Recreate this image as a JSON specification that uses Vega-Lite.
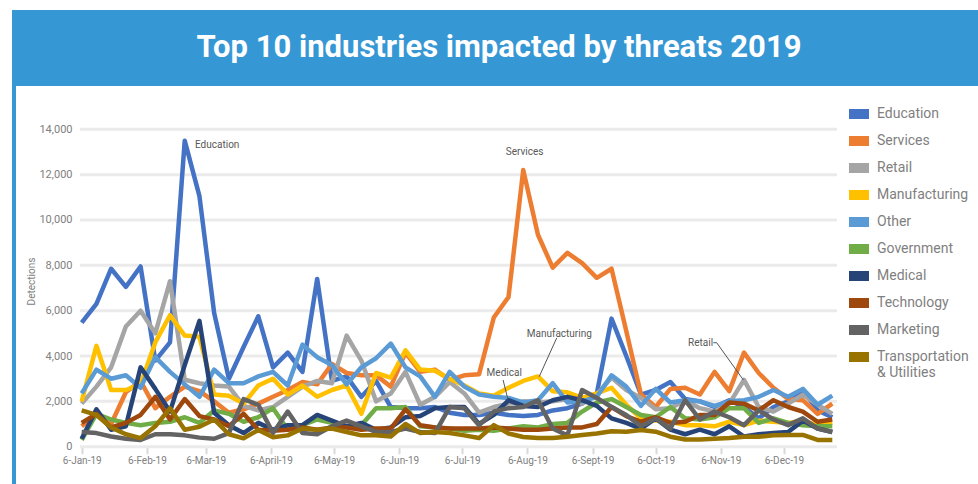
{
  "$schema": "https://vega.github.io/schema/vega-lite/v6.json",
  "width": 970,
  "height": 480,
  "autosize": "none",
  "padding": {"left": 14, "top": 10, "right": 0, "bottom": 0},
  "background": "white",
  "config": {"view": {"stroke": null}, "font": "Roboto"},
  "datasets": {
    "series": [
      {"date":"2019-01-06","industry":"Education","detections":5470},{"date":"2019-01-13","industry":"Education","detections":6300},{"date":"2019-01-20","industry":"Education","detections":7850},{"date":"2019-01-27","industry":"Education","detections":7050},{"date":"2019-02-03","industry":"Education","detections":7950},{"date":"2019-02-10","industry":"Education","detections":3800},{"date":"2019-02-17","industry":"Education","detections":4600},{"date":"2019-02-24","industry":"Education","detections":13500},{"date":"2019-03-03","industry":"Education","detections":11050},{"date":"2019-03-10","industry":"Education","detections":5900},{"date":"2019-03-17","industry":"Education","detections":3000},{"date":"2019-03-24","industry":"Education","detections":4400},{"date":"2019-03-31","industry":"Education","detections":5750},{"date":"2019-04-07","industry":"Education","detections":3500},{"date":"2019-04-14","industry":"Education","detections":4150},{"date":"2019-04-21","industry":"Education","detections":3300},{"date":"2019-04-28","industry":"Education","detections":7400},{"date":"2019-05-05","industry":"Education","detections":2900},{"date":"2019-05-12","industry":"Education","detections":3100},{"date":"2019-05-19","industry":"Education","detections":2200},{"date":"2019-05-26","industry":"Education","detections":2900},{"date":"2019-06-02","industry":"Education","detections":1750},{"date":"2019-06-09","industry":"Education","detections":1700},{"date":"2019-06-16","industry":"Education","detections":1700},{"date":"2019-06-23","industry":"Education","detections":1750},{"date":"2019-06-30","industry":"Education","detections":1500},{"date":"2019-07-07","industry":"Education","detections":1400},{"date":"2019-07-14","industry":"Education","detections":1400},{"date":"2019-07-21","industry":"Education","detections":1500},{"date":"2019-07-28","industry":"Education","detections":1400},{"date":"2019-08-04","industry":"Education","detections":1350},{"date":"2019-08-11","industry":"Education","detections":1400},{"date":"2019-08-18","industry":"Education","detections":1600},{"date":"2019-08-25","industry":"Education","detections":1700},{"date":"2019-09-01","industry":"Education","detections":1900},{"date":"2019-09-08","industry":"Education","detections":2350},{"date":"2019-09-15","industry":"Education","detections":5650},{"date":"2019-09-22","industry":"Education","detections":4000},{"date":"2019-09-29","industry":"Education","detections":2300},{"date":"2019-10-06","industry":"Education","detections":2500},{"date":"2019-10-13","industry":"Education","detections":2850},{"date":"2019-10-20","industry":"Education","detections":2100},{"date":"2019-10-27","industry":"Education","detections":2000},{"date":"2019-11-03","industry":"Education","detections":1750},{"date":"2019-11-10","industry":"Education","detections":2050},{"date":"2019-11-17","industry":"Education","detections":1750},{"date":"2019-11-24","industry":"Education","detections":1250},{"date":"2019-12-01","industry":"Education","detections":1750},{"date":"2019-12-08","industry":"Education","detections":2000},{"date":"2019-12-15","industry":"Education","detections":2500},{"date":"2019-12-22","industry":"Education","detections":1600},{"date":"2019-12-29","industry":"Education","detections":1300},
      {"date":"2019-01-06","industry":"Services","detections":900},{"date":"2019-01-13","industry":"Services","detections":1450},{"date":"2019-01-20","industry":"Services","detections":1000},{"date":"2019-01-27","industry":"Services","detections":2400},{"date":"2019-02-03","industry":"Services","detections":2900},{"date":"2019-02-10","industry":"Services","detections":1700},{"date":"2019-02-17","industry":"Services","detections":2200},{"date":"2019-02-24","industry":"Services","detections":2650},{"date":"2019-03-03","industry":"Services","detections":2450},{"date":"2019-03-10","industry":"Services","detections":2000},{"date":"2019-03-17","industry":"Services","detections":1500},{"date":"2019-03-24","industry":"Services","detections":1650},{"date":"2019-03-31","industry":"Services","detections":1900},{"date":"2019-04-07","industry":"Services","detections":2200},{"date":"2019-04-14","industry":"Services","detections":2500},{"date":"2019-04-21","industry":"Services","detections":2850},{"date":"2019-04-28","industry":"Services","detections":2750},{"date":"2019-05-05","industry":"Services","detections":3650},{"date":"2019-05-12","industry":"Services","detections":3250},{"date":"2019-05-19","industry":"Services","detections":3150},{"date":"2019-05-26","industry":"Services","detections":3150},{"date":"2019-06-02","industry":"Services","detections":2650},{"date":"2019-06-09","industry":"Services","detections":4150},{"date":"2019-06-16","industry":"Services","detections":3300},{"date":"2019-06-23","industry":"Services","detections":3400},{"date":"2019-06-30","industry":"Services","detections":2950},{"date":"2019-07-07","industry":"Services","detections":3150},{"date":"2019-07-14","industry":"Services","detections":3200},{"date":"2019-07-21","industry":"Services","detections":5700},{"date":"2019-07-28","industry":"Services","detections":6600},{"date":"2019-08-04","industry":"Services","detections":12200},{"date":"2019-08-11","industry":"Services","detections":9350},{"date":"2019-08-18","industry":"Services","detections":7900},{"date":"2019-08-25","industry":"Services","detections":8550},{"date":"2019-09-01","industry":"Services","detections":8100},{"date":"2019-09-08","industry":"Services","detections":7450},{"date":"2019-09-15","industry":"Services","detections":7850},{"date":"2019-09-22","industry":"Services","detections":5100},{"date":"2019-09-29","industry":"Services","detections":2300},{"date":"2019-10-06","industry":"Services","detections":1750},{"date":"2019-10-13","industry":"Services","detections":2550},{"date":"2019-10-20","industry":"Services","detections":2600},{"date":"2019-10-27","industry":"Services","detections":2300},{"date":"2019-11-03","industry":"Services","detections":3300},{"date":"2019-11-10","industry":"Services","detections":2450},{"date":"2019-11-17","industry":"Services","detections":4150},{"date":"2019-11-24","industry":"Services","detections":3250},{"date":"2019-12-01","industry":"Services","detections":2600},{"date":"2019-12-08","industry":"Services","detections":2100},{"date":"2019-12-15","industry":"Services","detections":2050},{"date":"2019-12-22","industry":"Services","detections":1450},{"date":"2019-12-29","industry":"Services","detections":1900},
      {"date":"2019-01-06","industry":"Retail","detections":1900},{"date":"2019-01-13","industry":"Retail","detections":2650},{"date":"2019-01-20","industry":"Retail","detections":3500},{"date":"2019-01-27","industry":"Retail","detections":5300},{"date":"2019-02-03","industry":"Retail","detections":6000},{"date":"2019-02-10","industry":"Retail","detections":5000},{"date":"2019-02-17","industry":"Retail","detections":7300},{"date":"2019-02-24","industry":"Retail","detections":2950},{"date":"2019-03-03","industry":"Retail","detections":2800},{"date":"2019-03-10","industry":"Retail","detections":2700},{"date":"2019-03-17","industry":"Retail","detections":2650},{"date":"2019-03-24","industry":"Retail","detections":1800},{"date":"2019-03-31","industry":"Retail","detections":1600},{"date":"2019-04-07","industry":"Retail","detections":1750},{"date":"2019-04-14","industry":"Retail","detections":2200},{"date":"2019-04-21","industry":"Retail","detections":2650},{"date":"2019-04-28","industry":"Retail","detections":2900},{"date":"2019-05-05","industry":"Retail","detections":2800},{"date":"2019-05-12","industry":"Retail","detections":4900},{"date":"2019-05-19","industry":"Retail","detections":3800},{"date":"2019-05-26","industry":"Retail","detections":2000},{"date":"2019-06-02","industry":"Retail","detections":2350},{"date":"2019-06-09","industry":"Retail","detections":3300},{"date":"2019-06-16","industry":"Retail","detections":1850},{"date":"2019-06-23","industry":"Retail","detections":2200},{"date":"2019-06-30","industry":"Retail","detections":2850},{"date":"2019-07-07","industry":"Retail","detections":2350},{"date":"2019-07-14","industry":"Retail","detections":1500},{"date":"2019-07-21","industry":"Retail","detections":1750},{"date":"2019-07-28","industry":"Retail","detections":1900},{"date":"2019-08-04","industry":"Retail","detections":2000},{"date":"2019-08-11","industry":"Retail","detections":1950},{"date":"2019-08-18","industry":"Retail","detections":2000},{"date":"2019-08-25","industry":"Retail","detections":2100},{"date":"2019-09-01","industry":"Retail","detections":1900},{"date":"2019-09-08","industry":"Retail","detections":2300},{"date":"2019-09-15","industry":"Retail","detections":3050},{"date":"2019-09-22","industry":"Retail","detections":2500},{"date":"2019-09-29","industry":"Retail","detections":2150},{"date":"2019-10-06","industry":"Retail","detections":1650},{"date":"2019-10-13","industry":"Retail","detections":1700},{"date":"2019-10-20","industry":"Retail","detections":2050},{"date":"2019-10-27","industry":"Retail","detections":1700},{"date":"2019-11-03","industry":"Retail","detections":1550},{"date":"2019-11-10","industry":"Retail","detections":1900},{"date":"2019-11-17","industry":"Retail","detections":2950},{"date":"2019-11-24","industry":"Retail","detections":1750},{"date":"2019-12-01","industry":"Retail","detections":1550},{"date":"2019-12-08","industry":"Retail","detections":1900},{"date":"2019-12-15","industry":"Retail","detections":2300},{"date":"2019-12-22","industry":"Retail","detections":1850},{"date":"2019-12-29","industry":"Retail","detections":1450},
      {"date":"2019-01-06","industry":"Manufacturing","detections":2000},{"date":"2019-01-13","industry":"Manufacturing","detections":4450},{"date":"2019-01-20","industry":"Manufacturing","detections":2500},{"date":"2019-01-27","industry":"Manufacturing","detections":2500},{"date":"2019-02-03","industry":"Manufacturing","detections":2750},{"date":"2019-02-10","industry":"Manufacturing","detections":4600},{"date":"2019-02-17","industry":"Manufacturing","detections":5800},{"date":"2019-02-24","industry":"Manufacturing","detections":4900},{"date":"2019-03-03","industry":"Manufacturing","detections":4850},{"date":"2019-03-10","industry":"Manufacturing","detections":2300},{"date":"2019-03-17","industry":"Manufacturing","detections":2250},{"date":"2019-03-24","industry":"Manufacturing","detections":1900},{"date":"2019-03-31","industry":"Manufacturing","detections":2700},{"date":"2019-04-07","industry":"Manufacturing","detections":3000},{"date":"2019-04-14","industry":"Manufacturing","detections":2300},{"date":"2019-04-21","industry":"Manufacturing","detections":2700},{"date":"2019-04-28","industry":"Manufacturing","detections":2200},{"date":"2019-05-05","industry":"Manufacturing","detections":2500},{"date":"2019-05-12","industry":"Manufacturing","detections":2700},{"date":"2019-05-19","industry":"Manufacturing","detections":1450},{"date":"2019-05-26","industry":"Manufacturing","detections":3250},{"date":"2019-06-02","industry":"Manufacturing","detections":3050},{"date":"2019-06-09","industry":"Manufacturing","detections":4250},{"date":"2019-06-16","industry":"Manufacturing","detections":3400},{"date":"2019-06-23","industry":"Manufacturing","detections":3350},{"date":"2019-06-30","industry":"Manufacturing","detections":3000},{"date":"2019-07-07","industry":"Manufacturing","detections":2700},{"date":"2019-07-14","industry":"Manufacturing","detections":2350},{"date":"2019-07-21","industry":"Manufacturing","detections":2250},{"date":"2019-07-28","industry":"Manufacturing","detections":2600},{"date":"2019-08-04","industry":"Manufacturing","detections":2900},{"date":"2019-08-11","industry":"Manufacturing","detections":3100},{"date":"2019-08-18","industry":"Manufacturing","detections":2450},{"date":"2019-08-25","industry":"Manufacturing","detections":2400},{"date":"2019-09-01","industry":"Manufacturing","detections":2150},{"date":"2019-09-08","industry":"Manufacturing","detections":2350},{"date":"2019-09-15","industry":"Manufacturing","detections":2600},{"date":"2019-09-22","industry":"Manufacturing","detections":1850},{"date":"2019-09-29","industry":"Manufacturing","detections":1250},{"date":"2019-10-06","industry":"Manufacturing","detections":1150},{"date":"2019-10-13","industry":"Manufacturing","detections":1100},{"date":"2019-10-20","industry":"Manufacturing","detections":950},{"date":"2019-10-27","industry":"Manufacturing","detections":950},{"date":"2019-11-03","industry":"Manufacturing","detections":900},{"date":"2019-11-10","industry":"Manufacturing","detections":1100},{"date":"2019-11-17","industry":"Manufacturing","detections":950},{"date":"2019-11-24","industry":"Manufacturing","detections":1150},{"date":"2019-12-01","industry":"Manufacturing","detections":1100},{"date":"2019-12-08","industry":"Manufacturing","detections":1050},{"date":"2019-12-15","industry":"Manufacturing","detections":1150},{"date":"2019-12-22","industry":"Manufacturing","detections":950},{"date":"2019-12-29","industry":"Manufacturing","detections":1050},
      {"date":"2019-01-06","industry":"Other","detections":2350},{"date":"2019-01-13","industry":"Other","detections":3400},{"date":"2019-01-20","industry":"Other","detections":3000},{"date":"2019-01-27","industry":"Other","detections":3150},{"date":"2019-02-03","industry":"Other","detections":2600},{"date":"2019-02-10","industry":"Other","detections":3950},{"date":"2019-02-17","industry":"Other","detections":3300},{"date":"2019-02-24","industry":"Other","detections":2750},{"date":"2019-03-03","industry":"Other","detections":2200},{"date":"2019-03-10","industry":"Other","detections":3400},{"date":"2019-03-17","industry":"Other","detections":2800},{"date":"2019-03-24","industry":"Other","detections":2800},{"date":"2019-03-31","industry":"Other","detections":3100},{"date":"2019-04-07","industry":"Other","detections":3300},{"date":"2019-04-14","industry":"Other","detections":2700},{"date":"2019-04-21","industry":"Other","detections":4500},{"date":"2019-04-28","industry":"Other","detections":3950},{"date":"2019-05-05","industry":"Other","detections":3600},{"date":"2019-05-12","industry":"Other","detections":2750},{"date":"2019-05-19","industry":"Other","detections":3500},{"date":"2019-05-26","industry":"Other","detections":3900},{"date":"2019-06-02","industry":"Other","detections":4550},{"date":"2019-06-09","industry":"Other","detections":3500},{"date":"2019-06-16","industry":"Other","detections":3100},{"date":"2019-06-23","industry":"Other","detections":2200},{"date":"2019-06-30","industry":"Other","detections":3300},{"date":"2019-07-07","industry":"Other","detections":2650},{"date":"2019-07-14","industry":"Other","detections":2300},{"date":"2019-07-21","industry":"Other","detections":2200},{"date":"2019-07-28","industry":"Other","detections":2150},{"date":"2019-08-04","industry":"Other","detections":1950},{"date":"2019-08-11","industry":"Other","detections":2050},{"date":"2019-08-18","industry":"Other","detections":2800},{"date":"2019-08-25","industry":"Other","detections":1950},{"date":"2019-09-01","industry":"Other","detections":2000},{"date":"2019-09-08","industry":"Other","detections":2200},{"date":"2019-09-15","industry":"Other","detections":3150},{"date":"2019-09-22","industry":"Other","detections":2650},{"date":"2019-09-29","industry":"Other","detections":1800},{"date":"2019-10-06","industry":"Other","detections":2550},{"date":"2019-10-13","industry":"Other","detections":1950},{"date":"2019-10-20","industry":"Other","detections":2050},{"date":"2019-10-27","industry":"Other","detections":2000},{"date":"2019-11-03","industry":"Other","detections":1800},{"date":"2019-11-10","industry":"Other","detections":2000},{"date":"2019-11-17","industry":"Other","detections":2050},{"date":"2019-11-24","industry":"Other","detections":2200},{"date":"2019-12-01","industry":"Other","detections":2500},{"date":"2019-12-08","industry":"Other","detections":2200},{"date":"2019-12-15","industry":"Other","detections":2550},{"date":"2019-12-22","industry":"Other","detections":1850},{"date":"2019-12-29","industry":"Other","detections":2250},
      {"date":"2019-01-06","industry":"Government","detections":300},{"date":"2019-01-13","industry":"Government","detections":1450},{"date":"2019-01-20","industry":"Government","detections":1200},{"date":"2019-01-27","industry":"Government","detections":1050},{"date":"2019-02-03","industry":"Government","detections":950},{"date":"2019-02-10","industry":"Government","detections":1050},{"date":"2019-02-17","industry":"Government","detections":1100},{"date":"2019-02-24","industry":"Government","detections":1300},{"date":"2019-03-03","industry":"Government","detections":1050},{"date":"2019-03-10","industry":"Government","detections":1600},{"date":"2019-03-17","industry":"Government","detections":1450},{"date":"2019-03-24","industry":"Government","detections":1100},{"date":"2019-03-31","industry":"Government","detections":1300},{"date":"2019-04-07","industry":"Government","detections":1700},{"date":"2019-04-14","industry":"Government","detections":750},{"date":"2019-04-21","industry":"Government","detections":950},{"date":"2019-04-28","industry":"Government","detections":1200},{"date":"2019-05-05","industry":"Government","detections":1050},{"date":"2019-05-12","industry":"Government","detections":900},{"date":"2019-05-19","industry":"Government","detections":950},{"date":"2019-05-26","industry":"Government","detections":1700},{"date":"2019-06-02","industry":"Government","detections":1700},{"date":"2019-06-09","industry":"Government","detections":1750},{"date":"2019-06-16","industry":"Government","detections":900},{"date":"2019-06-23","industry":"Government","detections":850},{"date":"2019-06-30","industry":"Government","detections":800},{"date":"2019-07-07","industry":"Government","detections":700},{"date":"2019-07-14","industry":"Government","detections":750},{"date":"2019-07-21","industry":"Government","detections":700},{"date":"2019-07-28","industry":"Government","detections":800},{"date":"2019-08-04","industry":"Government","detections":900},{"date":"2019-08-11","industry":"Government","detections":850},{"date":"2019-08-18","industry":"Government","detections":1000},{"date":"2019-08-25","industry":"Government","detections":1050},{"date":"2019-09-01","industry":"Government","detections":1550},{"date":"2019-09-08","industry":"Government","detections":1950},{"date":"2019-09-15","industry":"Government","detections":2100},{"date":"2019-09-22","industry":"Government","detections":1750},{"date":"2019-09-29","industry":"Government","detections":1400},{"date":"2019-10-06","industry":"Government","detections":1300},{"date":"2019-10-13","industry":"Government","detections":1750},{"date":"2019-10-20","industry":"Government","detections":1250},{"date":"2019-10-27","industry":"Government","detections":1200},{"date":"2019-11-03","industry":"Government","detections":1300},{"date":"2019-11-10","industry":"Government","detections":1700},{"date":"2019-11-17","industry":"Government","detections":1700},{"date":"2019-11-24","industry":"Government","detections":1050},{"date":"2019-12-01","industry":"Government","detections":1250},{"date":"2019-12-08","industry":"Government","detections":1050},{"date":"2019-12-15","industry":"Government","detections":950},{"date":"2019-12-22","industry":"Government","detections":900},{"date":"2019-12-29","industry":"Government","detections":900},
      {"date":"2019-01-06","industry":"Medical","detections":350},{"date":"2019-01-13","industry":"Medical","detections":1650},{"date":"2019-01-20","industry":"Medical","detections":750},{"date":"2019-01-27","industry":"Medical","detections":900},{"date":"2019-02-03","industry":"Medical","detections":3500},{"date":"2019-02-10","industry":"Medical","detections":2550},{"date":"2019-02-17","industry":"Medical","detections":1550},{"date":"2019-02-24","industry":"Medical","detections":3600},{"date":"2019-03-03","industry":"Medical","detections":5550},{"date":"2019-03-10","industry":"Medical","detections":1500},{"date":"2019-03-17","industry":"Medical","detections":950},{"date":"2019-03-24","industry":"Medical","detections":600},{"date":"2019-03-31","industry":"Medical","detections":1050},{"date":"2019-04-07","industry":"Medical","detections":750},{"date":"2019-04-14","industry":"Medical","detections":950},{"date":"2019-04-21","industry":"Medical","detections":950},{"date":"2019-04-28","industry":"Medical","detections":1400},{"date":"2019-05-05","industry":"Medical","detections":1150},{"date":"2019-05-12","industry":"Medical","detections":900},{"date":"2019-05-19","industry":"Medical","detections":1050},{"date":"2019-05-26","industry":"Medical","detections":750},{"date":"2019-06-02","industry":"Medical","detections":850},{"date":"2019-06-09","industry":"Medical","detections":1300},{"date":"2019-06-16","industry":"Medical","detections":1350},{"date":"2019-06-23","industry":"Medical","detections":1700},{"date":"2019-06-30","industry":"Medical","detections":1750},{"date":"2019-07-07","industry":"Medical","detections":1750},{"date":"2019-07-14","industry":"Medical","detections":1000},{"date":"2019-07-21","industry":"Medical","detections":1400},{"date":"2019-07-28","industry":"Medical","detections":2050},{"date":"2019-08-04","industry":"Medical","detections":1800},{"date":"2019-08-11","industry":"Medical","detections":1750},{"date":"2019-08-18","industry":"Medical","detections":2050},{"date":"2019-08-25","industry":"Medical","detections":2200},{"date":"2019-09-01","industry":"Medical","detections":2050},{"date":"2019-09-08","industry":"Medical","detections":1800},{"date":"2019-09-15","industry":"Medical","detections":1250},{"date":"2019-09-22","industry":"Medical","detections":1050},{"date":"2019-09-29","industry":"Medical","detections":800},{"date":"2019-10-06","industry":"Medical","detections":1250},{"date":"2019-10-13","industry":"Medical","detections":750},{"date":"2019-10-20","industry":"Medical","detections":550},{"date":"2019-10-27","industry":"Medical","detections":750},{"date":"2019-11-03","industry":"Medical","detections":550},{"date":"2019-11-10","industry":"Medical","detections":900},{"date":"2019-11-17","industry":"Medical","detections":450},{"date":"2019-11-24","industry":"Medical","detections":550},{"date":"2019-12-01","industry":"Medical","detections":600},{"date":"2019-12-08","industry":"Medical","detections":650},{"date":"2019-12-15","industry":"Medical","detections":1150},{"date":"2019-12-22","industry":"Medical","detections":800},{"date":"2019-12-29","industry":"Medical","detections":650},
      {"date":"2019-01-06","industry":"Technology","detections":1050},{"date":"2019-01-13","industry":"Technology","detections":1450},{"date":"2019-01-20","industry":"Technology","detections":850},{"date":"2019-01-27","industry":"Technology","detections":1050},{"date":"2019-02-03","industry":"Technology","detections":1400},{"date":"2019-02-10","industry":"Technology","detections":2200},{"date":"2019-02-17","industry":"Technology","detections":1200},{"date":"2019-02-24","industry":"Technology","detections":2100},{"date":"2019-03-03","industry":"Technology","detections":1350},{"date":"2019-03-10","industry":"Technology","detections":1200},{"date":"2019-03-17","industry":"Technology","detections":900},{"date":"2019-03-24","industry":"Technology","detections":1450},{"date":"2019-03-31","industry":"Technology","detections":750},{"date":"2019-04-07","industry":"Technology","detections":700},{"date":"2019-04-14","industry":"Technology","detections":750},{"date":"2019-04-21","industry":"Technology","detections":850},{"date":"2019-04-28","industry":"Technology","detections":750},{"date":"2019-05-05","industry":"Technology","detections":850},{"date":"2019-05-12","industry":"Technology","detections":850},{"date":"2019-05-19","industry":"Technology","detections":750},{"date":"2019-05-26","industry":"Technology","detections":800},{"date":"2019-06-02","industry":"Technology","detections":800},{"date":"2019-06-09","industry":"Technology","detections":1650},{"date":"2019-06-16","industry":"Technology","detections":950},{"date":"2019-06-23","industry":"Technology","detections":850},{"date":"2019-06-30","industry":"Technology","detections":800},{"date":"2019-07-07","industry":"Technology","detections":800},{"date":"2019-07-14","industry":"Technology","detections":800},{"date":"2019-07-21","industry":"Technology","detections":850},{"date":"2019-07-28","industry":"Technology","detections":800},{"date":"2019-08-04","industry":"Technology","detections":750},{"date":"2019-08-11","industry":"Technology","detections":750},{"date":"2019-08-18","industry":"Technology","detections":800},{"date":"2019-08-25","industry":"Technology","detections":850},{"date":"2019-09-01","industry":"Technology","detections":850},{"date":"2019-09-08","industry":"Technology","detections":1000},{"date":"2019-09-15","industry":"Technology","detections":1750},{"date":"2019-09-22","industry":"Technology","detections":1350},{"date":"2019-09-29","industry":"Technology","detections":1100},{"date":"2019-10-06","industry":"Technology","detections":1300},{"date":"2019-10-13","industry":"Technology","detections":1050},{"date":"2019-10-20","industry":"Technology","detections":1100},{"date":"2019-10-27","industry":"Technology","detections":1400},{"date":"2019-11-03","industry":"Technology","detections":1400},{"date":"2019-11-10","industry":"Technology","detections":1950},{"date":"2019-11-17","industry":"Technology","detections":1900},{"date":"2019-11-24","industry":"Technology","detections":1600},{"date":"2019-12-01","industry":"Technology","detections":2050},{"date":"2019-12-08","industry":"Technology","detections":1750},{"date":"2019-12-15","industry":"Technology","detections":1550},{"date":"2019-12-22","industry":"Technology","detections":1100},{"date":"2019-12-29","industry":"Technology","detections":1200},
      {"date":"2019-01-06","industry":"Marketing","detections":650},{"date":"2019-01-13","industry":"Marketing","detections":600},{"date":"2019-01-20","industry":"Marketing","detections":450},{"date":"2019-01-27","industry":"Marketing","detections":350},{"date":"2019-02-03","industry":"Marketing","detections":300},{"date":"2019-02-10","industry":"Marketing","detections":550},{"date":"2019-02-17","industry":"Marketing","detections":550},{"date":"2019-02-24","industry":"Marketing","detections":500},{"date":"2019-03-03","industry":"Marketing","detections":400},{"date":"2019-03-10","industry":"Marketing","detections":350},{"date":"2019-03-17","industry":"Marketing","detections":600},{"date":"2019-03-24","industry":"Marketing","detections":2100},{"date":"2019-03-31","industry":"Marketing","detections":1850},{"date":"2019-04-07","industry":"Marketing","detections":600},{"date":"2019-04-14","industry":"Marketing","detections":1550},{"date":"2019-04-21","industry":"Marketing","detections":600},{"date":"2019-04-28","industry":"Marketing","detections":550},{"date":"2019-05-05","industry":"Marketing","detections":900},{"date":"2019-05-12","industry":"Marketing","detections":1150},{"date":"2019-05-19","industry":"Marketing","detections":900},{"date":"2019-05-26","industry":"Marketing","detections":650},{"date":"2019-06-02","industry":"Marketing","detections":650},{"date":"2019-06-09","industry":"Marketing","detections":800},{"date":"2019-06-16","industry":"Marketing","detections":650},{"date":"2019-06-23","industry":"Marketing","detections":600},{"date":"2019-06-30","industry":"Marketing","detections":1750},{"date":"2019-07-07","industry":"Marketing","detections":1700},{"date":"2019-07-14","industry":"Marketing","detections":950},{"date":"2019-07-21","industry":"Marketing","detections":1550},{"date":"2019-07-28","industry":"Marketing","detections":1700},{"date":"2019-08-04","industry":"Marketing","detections":1750},{"date":"2019-08-11","industry":"Marketing","detections":2050},{"date":"2019-08-18","industry":"Marketing","detections":800},{"date":"2019-08-25","industry":"Marketing","detections":500},{"date":"2019-09-01","industry":"Marketing","detections":2500},{"date":"2019-09-08","industry":"Marketing","detections":2150},{"date":"2019-09-15","industry":"Marketing","detections":1750},{"date":"2019-09-22","industry":"Marketing","detections":1400},{"date":"2019-09-29","industry":"Marketing","detections":900},{"date":"2019-10-06","industry":"Marketing","detections":1250},{"date":"2019-10-13","industry":"Marketing","detections":800},{"date":"2019-10-20","industry":"Marketing","detections":2050},{"date":"2019-10-27","industry":"Marketing","detections":1200},{"date":"2019-11-03","industry":"Marketing","detections":1550},{"date":"2019-11-10","industry":"Marketing","detections":1300},{"date":"2019-11-17","industry":"Marketing","detections":950},{"date":"2019-11-24","industry":"Marketing","detections":1600},{"date":"2019-12-01","industry":"Marketing","detections":1200},{"date":"2019-12-08","industry":"Marketing","detections":950},{"date":"2019-12-15","industry":"Marketing","detections":1250},{"date":"2019-12-22","industry":"Marketing","detections":800},{"date":"2019-12-29","industry":"Marketing","detections":650},
      {"date":"2019-01-06","industry":"Transportation & Utilities","detections":1600},{"date":"2019-01-13","industry":"Transportation & Utilities","detections":1400},{"date":"2019-01-20","industry":"Transportation & Utilities","detections":850},{"date":"2019-01-27","industry":"Transportation & Utilities","detections":550},{"date":"2019-02-03","industry":"Transportation & Utilities","detections":380},{"date":"2019-02-10","industry":"Transportation & Utilities","detections":900},{"date":"2019-02-17","industry":"Transportation & Utilities","detections":1700},{"date":"2019-02-24","industry":"Transportation & Utilities","detections":750},{"date":"2019-03-03","industry":"Transportation & Utilities","detections":880},{"date":"2019-03-10","industry":"Transportation & Utilities","detections":1200},{"date":"2019-03-17","industry":"Transportation & Utilities","detections":550},{"date":"2019-03-24","industry":"Transportation & Utilities","detections":370},{"date":"2019-03-31","industry":"Transportation & Utilities","detections":740},{"date":"2019-04-07","industry":"Transportation & Utilities","detections":420},{"date":"2019-04-14","industry":"Transportation & Utilities","detections":500},{"date":"2019-04-21","industry":"Transportation & Utilities","detections":800},{"date":"2019-04-28","industry":"Transportation & Utilities","detections":750},{"date":"2019-05-05","industry":"Transportation & Utilities","detections":800},{"date":"2019-05-12","industry":"Transportation & Utilities","detections":650},{"date":"2019-05-19","industry":"Transportation & Utilities","detections":500},{"date":"2019-05-26","industry":"Transportation & Utilities","detections":500},{"date":"2019-06-02","industry":"Transportation & Utilities","detections":450},{"date":"2019-06-09","industry":"Transportation & Utilities","detections":1000},{"date":"2019-06-16","industry":"Transportation & Utilities","detections":600},{"date":"2019-06-23","industry":"Transportation & Utilities","detections":650},{"date":"2019-06-30","industry":"Transportation & Utilities","detections":600},{"date":"2019-07-07","industry":"Transportation & Utilities","detections":500},{"date":"2019-07-14","industry":"Transportation & Utilities","detections":380},{"date":"2019-07-21","industry":"Transportation & Utilities","detections":950},{"date":"2019-07-28","industry":"Transportation & Utilities","detections":580},{"date":"2019-08-04","industry":"Transportation & Utilities","detections":430},{"date":"2019-08-11","industry":"Transportation & Utilities","detections":380},{"date":"2019-08-18","industry":"Transportation & Utilities","detections":380},{"date":"2019-08-25","industry":"Transportation & Utilities","detections":440},{"date":"2019-09-01","industry":"Transportation & Utilities","detections":520},{"date":"2019-09-08","industry":"Transportation & Utilities","detections":580},{"date":"2019-09-15","industry":"Transportation & Utilities","detections":680},{"date":"2019-09-22","industry":"Transportation & Utilities","detections":660},{"date":"2019-09-29","industry":"Transportation & Utilities","detections":740},{"date":"2019-10-06","industry":"Transportation & Utilities","detections":660},{"date":"2019-10-13","industry":"Transportation & Utilities","detections":440},{"date":"2019-10-20","industry":"Transportation & Utilities","detections":320},{"date":"2019-10-27","industry":"Transportation & Utilities","detections":320},{"date":"2019-11-03","industry":"Transportation & Utilities","detections":350},{"date":"2019-11-10","industry":"Transportation & Utilities","detections":380},{"date":"2019-11-17","industry":"Transportation & Utilities","detections":440},{"date":"2019-11-24","industry":"Transportation & Utilities","detections":440},{"date":"2019-12-01","industry":"Transportation & Utilities","detections":500},{"date":"2019-12-08","industry":"Transportation & Utilities","detections":520},{"date":"2019-12-15","industry":"Transportation & Utilities","detections":520},{"date":"2019-12-22","industry":"Transportation & Utilities","detections":300},{"date":"2019-12-29","industry":"Transportation & Utilities","detections":300}
    ],
    "gridlines": [{"detections":0},{"detections":2000},{"detections":4000},{"detections":6000},{"detections":8000},{"detections":10000},{"detections":12000},{"detections":14000}],
    "annotations": [
      {"label":"Education","date":"2019-02-28T21:36:00Z","detections":13307},
      {"label":"Services","date":"2019-07-26T17:00:00Z","detections":12986},
      {"label":"Manufacturing","date":"2019-08-05T16:00:00Z","detections":4971},
      {"label":"Medical","date":"2019-07-17T14:00:00Z","detections":3251},
      {"label":"Retail","date":"2019-10-21T10:00:00Z","detections":4587}
    ],
    "leaders": [
      {"label":"Manufacturing","date":"2019-08-19T22:00:00Z","detections":4795,"date2":"2019-08-11T14:00:00Z","detections2":3088},
      {"label":"Medical","date":"2019-07-25T10:00:00Z","detections":2942,"date2":"2019-07-27T14:00:00Z","detections2":2135},
      {"label":"Retail","date":"2019-11-02T10:00:00Z","detections":4587,"date2":"2019-11-04T00:00:00Z","detections2":4587},
      {"label":"Retail","date":"2019-11-04T00:00:00Z","detections":4587,"date2":"2019-11-16T17:00:00Z","detections2":2942}
    ]
  },
  "layer": [
    {
      "data": {"values": [{"part": "banner"}]},
      "mark": {"type": "rect", "color": "#3697d5"},
      "encoding": {
        "x": {"datum": 1543868580950, "type": "temporal"},
        "x2": {"datum": 1590000000000},
        "y": {"datum": 15910, "type": "quantitative"},
        "y2": {"datum": 19262}
      }
    },
    {
      "data": {"values": [{"part": "border"}]},
      "mark": {"type": "rect", "color": "#3697d5"},
      "encoding": {
        "x": {"datum": 1543868580950, "type": "temporal"},
        "x2": {"datum": 1544032955050},
        "y": {"datum": -1910, "type": "quantitative"},
        "y2": {"datum": 15910}
      }
    },
    {
      "data": {"name": "gridlines"},
      "mark": {"type": "rule", "color": "#ebebeb", "strokeWidth": 3},
      "encoding": {
        "x": {"datum": 1546662940650, "type": "temporal"},
        "x2": {"datum": 1577770739075},
        "y": {"field": "detections", "type": "quantitative"}
      }
    },
    {
      "data": {"name": "series"},
      "mark": {"type": "line", "strokeWidth": 4.5, "strokeJoin": "round"},
      "encoding": {
        "x": {
          "field": "date", "type": "temporal",
          "scale": {"type": "utc", "domain": [1543950768000, 1583811487250], "nice": false},
          "axis": {
            "values": [
              {"year": 2019, "month": 1, "date": 6, "utc": true},
              {"year": 2019, "month": 2, "date": 6, "utc": true},
              {"year": 2019, "month": 3, "date": 6, "utc": true},
              {"year": 2019, "month": 4, "date": 6, "utc": true},
              {"year": 2019, "month": 5, "date": 6, "utc": true},
              {"year": 2019, "month": 6, "date": 6, "utc": true},
              {"year": 2019, "month": 7, "date": 6, "utc": true},
              {"year": 2019, "month": 8, "date": 6, "utc": true},
              {"year": 2019, "month": 9, "date": 6, "utc": true},
              {"year": 2019, "month": 10, "date": 6, "utc": true},
              {"year": 2019, "month": 11, "date": 6, "utc": true},
              {"year": 2019, "month": 12, "date": 6, "utc": true}
            ],
            "labelExpr": "replace(replace(utcFormat(datum.value, '%-d-%b-%y'), 'Apr', 'April'), 'Sep', 'Sept')",
            "offset": -43.3,
            "tickSize": 7,
            "tickColor": "#d9d9d9",
            "tickWidth": 2,
            "domain": false,
            "grid": false,
            "labelFont": "Roboto",
            "labelFontSize": 10,
            "labelColor": "#808080",
            "labelPadding": 2,
            "labelFlush": false,
            "labelOverlap": false,
            "title": null
          }
        },
        "y": {
          "field": "detections", "type": "quantitative",
          "scale": {"domain": [-1910, 19262], "nice": false, "zero": false},
          "axis": {
            "values": [0, 2000, 4000, 6000, 8000, 10000, 12000, 14000],
            "format": ",d",
            "domain": false,
            "ticks": false,
            "grid": false,
            "offset": -62,
            "labelPadding": 4,
            "labelFont": "Roboto",
            "labelFontSize": 11,
            "labelColor": "#808080",
            "title": "Detections",
            "titleFont": "Roboto",
            "titleFontSize": 10,
            "titleFontWeight": "normal",
            "titleColor": "#808080",
            "titleX": -45,
            "titleY": 271,
            "titleBaseline": "middle"
          }
        },
        "color": {
          "field": "industry", "type": "nominal",
          "scale": {
            "domain": ["Education", "Services", "Retail", "Manufacturing", "Other", "Government", "Medical", "Technology", "Marketing", "Transportation & Utilities"],
            "range": ["#4472c4", "#ed7d31", "#a5a5a5", "#ffc000", "#5b9bd5", "#70ad47", "#264478", "#9e480e", "#636363", "#997300"]
          },
          "legend": {
            "orient": "none",
            "legendX": 835,
            "legendY": 94,
            "title": null,
            "symbolType": "M-1,-0.5H1V0.5H-1Z",
            "symbolSize": 400,
            "symbolStrokeWidth": 0,
            "labelFont": "Roboto",
            "labelFontSize": 14,
            "labelColor": "#7f7f7f",
            "labelOffset": 8,
            "labelLimit": 200,
            "gridAlign": "each",
            "rowPadding": 10,
            "labelExpr": "datum.label == 'Transportation & Utilities' ? ['Transportation', '& Utilities'] : datum.label",
            "encode": {
              "symbols": {
                "update": {
                  "fill": {"scale": "color", "field": "value"},
                  "fillOpacity": {"value": 1},
                  "strokeWidth": {"value": 0}
                }
              }
            }
          }
        }
      }
    },
    {
      "data": {"name": "leaders"},
      "mark": {"type": "rule", "color": "#555555", "strokeWidth": 1},
      "encoding": {
        "x": {"field": "date", "type": "temporal"},
        "x2": {"field": "date2"},
        "y": {"field": "detections", "type": "quantitative"},
        "y2": {"field": "detections2"}
      }
    },
    {
      "data": {"name": "annotations"},
      "mark": {"type": "text", "align": "left", "baseline": "middle", "font": "Roboto", "fontSize": 10, "color": "#595959"},
      "encoding": {
        "x": {"field": "date", "type": "temporal"},
        "y": {"field": "detections", "type": "quantitative"},
        "text": {"field": "label"}
      }
    },
    {
      "data": {"values": [{"title": "Top 10 industries impacted by threats 2019"}]},
      "mark": {"type": "text", "align": "center", "baseline": "middle", "font": "Roboto", "fontSize": 31, "fontWeight": "bold", "color": "white"},
      "encoding": {
        "y": {"datum": 17586, "type": "quantitative"},
        "text": {"field": "title"}
      }
    }
  ]
}
